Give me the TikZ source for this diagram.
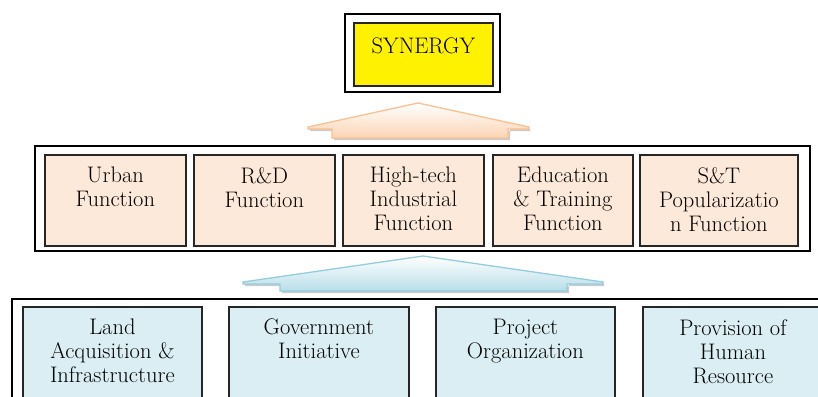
\documentclass[tikz,border=0pt]{standalone}
\usetikzlibrary{shadows}
\definecolor{peach}{HTML}{FDE9D9}
\definecolor{paleblue}{HTML}{DAEEF3}
\definecolor{orangeline}{HTML}{FAC090}
\definecolor{orangefill}{HTML}{FBD4B4}
\definecolor{blueline}{HTML}{93CDDD}
\definecolor{bluefill}{HTML}{B7DEE8}
\definecolor{boxline}{HTML}{262626}
\begin{document}
\begin{tikzpicture}[x=1pt,y=-1pt,
  frame/.style={draw=black,line width=1.3pt,fill=white},
  cell/.style={draw=boxline,line width=1.8pt,anchor=north west,inner sep=0pt,
    drop shadow={shadow xshift=0.8pt,shadow yshift=-0.8pt,opacity=0.35}},
  txt/.style={anchor=north,align=center,inner sep=0pt,
    font=\fontsize{22.5}{24}\selectfont,execute at begin node=\strut},
  midcell/.style={cell,fill=peach,minimum height=91pt},
  lowcell/.style={cell,fill=paleblue,minimum width=180pt,minimum height=110pt},
  blockshadow/.style={fill=black!45,opacity=0.45},
]
\useasboundingbox (0,0) rectangle (818,396);
\clip (0,0) rectangle (818,396);

% top element
\draw[frame] (345,14) rectangle (500,92);
\node[cell,fill=yellow,minimum width=139pt,minimum height=63pt] (syn) at (353,22) {};
\node[txt] (synT) at ([yshift=-14pt]syn.north) {SYNERGY};

% orange block arrow
\coordinate (oapex) at (418,103);
\fill[blockshadow] (310,129) -- (334,129) -- (334,140) -- (510,140) -- (510,129) -- (530,129) -- (530,131) -- (310,131) -- cycle;
\draw[draw=orangeline,line width=1.3pt,top color=white,bottom color=orangefill,line join=miter]
  (oapex) -- (529,127) -- (529,129) -- (508,129) -- (508,138) -- (332,138) -- (332,129) -- (308,129) -- (308,127) -- cycle;

% middle layer
\draw[frame] (35,146) rectangle (810,251);
\node[midcell,minimum width=141pt] (urban) at (44,154) {};
\node[midcell,minimum width=141pt] (rd)    at (193,154) {};
\node[midcell,minimum width=141pt] (htech) at (342,154) {};
\node[midcell,minimum width=140pt] (edu)   at (492,154) {};
\node[midcell,minimum width=158pt] (st)    at (639,154) {};
\node[txt] (urbanT) at ([yshift=-13pt]urban.north) {Urban\\Function};
\node[txt] (rdT)    at ([yshift=-13pt]rd.north)    {R\&D\\Function};
\node[txt] (htechT) at ([yshift=-13pt]htech.north) {High-tech\\Industrial\\Function};
\node[txt] (eduT)   at ([yshift=-13pt]edu.north)   {Education\\\& Training\\Function};
\node[txt] (stT)    at ([yshift=-13pt]st.north)    {S\&T\\Popularizatio\\n Function};

% blue block arrow
\coordinate (bapex) at (423,256);
\fill[blockshadow] (245,284) -- (282,284) -- (282,293) -- (569,293) -- (569,284) -- (604,284) -- (604,286) -- (245,286) -- cycle;
\draw[draw=blueline,line width=1.3pt,top color=white,bottom color=bluefill,line join=miter]
  (bapex) -- (603,282) -- (603,284) -- (567,284) -- (567,291) -- (280,291) -- (280,284) -- (243,284) -- (243,282) -- cycle;

% lower layer
\draw[frame,line width=1.8pt] (12,299) rectangle (840,420);
\node[lowcell,minimum width=179pt] (land) at (22,306) {};
\node[lowcell] (gov)  at (228,306) {};
\node[lowcell,minimum width=179pt] (proj) at (435,306) {};
\node[lowcell] (prov) at (642,306) {};
\node[txt] (landT) at ([yshift=-13pt]land.north) {Land\\Acquisition \&\\Infrastructure};
\node[txt] (govT)  at ([yshift=-13pt]gov.north)  {Government\\Initiative};
\node[txt] (projT) at ([yshift=-13pt]proj.north) {Project\\Organization};
\node[txt] (provT) at ([yshift=-13pt]prov.north) {Provision of\\Human\\Resource};
\end{tikzpicture}
\end{document}
